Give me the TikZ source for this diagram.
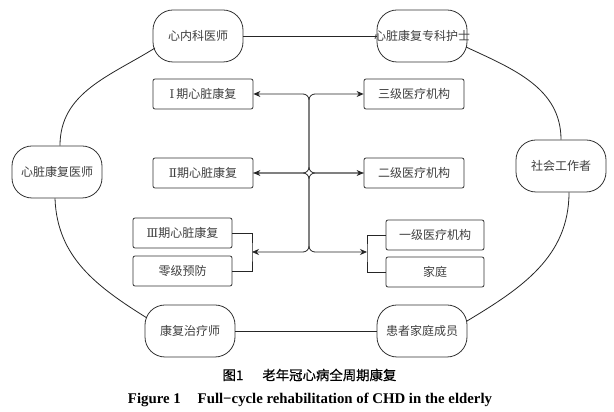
\documentclass[tikz,border=0pt]{standalone}
\usepackage{fontspec}
\setmainfont{Liberation Serif}
\newfontfamily\cjk{Noto Sans CJK SC}
\newfontfamily\cjkcap[FakeBold=0.5]{Noto Sans CJK SC}
\newfontfamily\romnum{DejaVu Serif}
\usetikzlibrary{arrows.meta,calc}
\begin{document}
\begin{tikzpicture}[x=1pt,y=1pt,
  role/.style={draw=black!80, line width=0.8pt, rounded corners=20pt, minimum width=90pt, minimum height=52pt, inner sep=0pt, font=\cjk\fontsize{12}{14}\selectfont, text=black!75},
  stagebox/.style={draw=black!80, line width=0.8pt, rounded corners=2pt, minimum width=100pt, minimum height=30pt, inner sep=0pt, font=\cjk\fontsize{12}{14}\selectfont, text=black!75},
  link/.style={draw=black!85, line width=0.8pt},
  >={Stealth[length=7pt,width=6pt]}
]
\useasboundingbox (0,0) rectangle (614,412);
\fill[white] (0,0) rectangle (614,412);

% role nodes
\node[role] (nk) at (198,376) {心内科医师};
\node[role] (hs) at (422,376) {\makebox[90pt]{心脏康复专科护士}};
\node[role] (ys) at (57,240) {心脏康复医师};
\node[role] (sg) at (561,246) {社会工作者};
\node[role] (kf) at (190,81) {康复治疗师};
\node[role] (hz) at (422,81) {患者家庭成员};

% stage nodes
\node[stagebox] (p1) at (203,318) {{\romnum Ⅰ}\,期心脏康复};
\node[stagebox] (p2) at (203,239) {{\romnum Ⅱ}期心脏康复};
\node[stagebox] (s3) at (414,318) {三级医疗机构};
\node[stagebox] (s2) at (414,239) {二级医疗机构};
\node[stagebox, minimum width=99pt] (p3) at (182.5,179) {{\romnum Ⅲ}期心脏康复};
\node[stagebox, minimum width=99pt] (p0) at (182.5,141) {零级预防};
\node[stagebox, minimum width=98pt] (s1) at (435,177) {一级医疗机构};
\node[stagebox, minimum width=98pt] (jt) at (435,140) {家庭};

% outer ring
\draw[link] (nk.east) -- (hs.west);
\draw[link] (kf.east) -- (hz.west);
\draw[link] ($(nk.center)+(-43,-12)$) to[out=212,in=90] ($(ys.north)+(3,0)$);
\draw[link] ($(ys.south)+(-2,0)$) to[out=272,in=148] ($(kf.center)+(-43,13)$);
\draw[link] ($(hs.center)+(44,-11)$) to[out=-25,in=90] (sg.north);
\draw[link] ($(sg.south)+(8,0)$) to[out=270,in=31] ($(hz.center)+(45,10)$);

% central hub
\coordinate (hub) at (309,239);
\coordinate (brL) at (252,160);
\coordinate (brR) at (367,160);
\draw[link, rounded corners=6pt, <->] (p1.east) -| (hub) -- (p2.east);
\draw[link, rounded corners=6pt, <->] (s3.west) -| (hub) -- (s2.west);
\draw[link, rounded corners=6pt, <-] (brL) -| (hub) -- (p2.east);
\draw[link, rounded corners=6pt, <-] (brR) -| (hub) -- (s2.west);

% brackets
\draw[link] (p3.east) -| (brL) |- (p0.east);
\draw[link] (s1.west) -| (brR) |- (jt.west);

% captions
\node[font=\cjkcap\fontsize{13.4}{16}\selectfont] (cap1) at (309.5,37) {图1\hspace{19pt}老年冠心病全周期康复};
\node[font=\bfseries\fontsize{14.8}{17}\selectfont, anchor=base] (cap2) at (310,8) {Figure 1\hspace{17pt}Full−cycle rehabilitation of CHD in the elderly};
\end{tikzpicture}
\end{document}
